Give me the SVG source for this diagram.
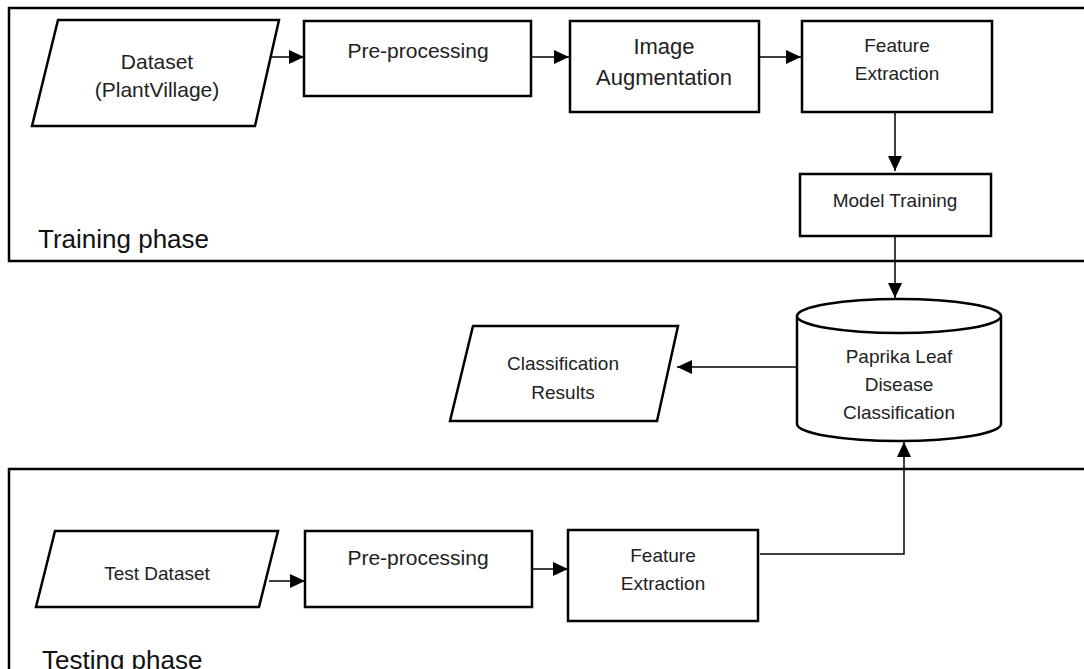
<svg xmlns="http://www.w3.org/2000/svg" width="1084" height="669" viewBox="0 0 1084 669">
<style>
.frame{fill:none;stroke:#000;stroke-width:2.5}
.node{fill:#fff;stroke:#000;stroke-width:2.5;stroke-linejoin:miter}
.conn{fill:none;stroke:#000;stroke-width:1.5}
text{font-family:"Liberation Sans",Arial,sans-serif;fill:#222;text-anchor:middle}
.lg{font-size:21px}
.sm{font-size:19px}
.phase{font-size:26px;text-anchor:start;fill:#111}
</style>
<defs>
<marker id="arr" markerUnits="userSpaceOnUse" markerWidth="16" markerHeight="14" refX="15" refY="7" orient="auto">
<path d="M0,0 L15,7 L0,14 Z" fill="#000"/>
</marker>
</defs>
<rect width="1084" height="669" fill="#fff"/>
<g id="training-phase">
<rect class="frame" x="9" y="8" width="1090" height="253"/>
<text class="phase" x="38" y="248">Training phase</text>
</g>
<g id="testing-phase">
<rect class="frame" x="9" y="469" width="1090" height="300"/>
<text class="phase" x="42" y="669">Testing phase</text>
</g>
<g id="connectors">
<path class="conn" d="M271,57 H304" marker-end="url(#arr)"/>
<path class="conn" d="M532,57 H569" marker-end="url(#arr)"/>
<path class="conn" d="M759,57 H801" marker-end="url(#arr)"/>
<path class="conn" d="M895,112 V171" marker-end="url(#arr)"/>
<path class="conn" d="M895,236 V298" marker-end="url(#arr)"/>
<path class="conn" d="M797,367 H677" marker-end="url(#arr)"/>
<path class="conn" d="M269,581 H305" marker-end="url(#arr)"/>
<path class="conn" d="M532,569 H568" marker-end="url(#arr)"/>
<path class="conn" d="M760,554 H904 V442" marker-end="url(#arr)"/>
</g>
<g id="dataset">
<polygon class="node" points="58,20 279,20 255,126 32,126"/>
<text class="lg" x="157" y="69">Dataset</text>
<text class="lg" x="157" y="97">(PlantVillage)</text>
</g>
<g id="preprocessing">
<rect class="node" x="304" y="21" width="227" height="75"/>
<text class="lg" x="418" y="58">Pre-processing</text>
</g>
<g id="image-augmentation">
<rect class="node" x="570" y="21" width="189" height="91"/>
<text style="font-size:22px" x="664" y="54">Image</text>
<text style="font-size:22px" x="664" y="85">Augmentation</text>
</g>
<g id="feature-extraction">
<rect class="node" x="802" y="21" width="190" height="91"/>
<text class="sm" x="897" y="52">Feature</text>
<text class="sm" x="897" y="80">Extraction</text>
</g>
<g id="model-training">
<rect class="node" x="800" y="174" width="191" height="62"/>
<text class="sm" x="895" y="207">Model Training</text>
</g>
<g id="paprika-classification">
<path class="node" d="M797,316 A102,17 0 0 1 1001,316 V424 A102,17 0 0 1 797,424 Z"/>
<path class="node" fill="none" d="M797,316 A102,17 0 0 0 1001,316"/>
<text class="sm" x="899" y="363">Paprika Leaf</text>
<text class="sm" x="899" y="391">Disease</text>
<text class="sm" x="899" y="419">Classification</text>
</g>
<g id="classification-results">
<polygon class="node" points="473,326 678,326 657,421 450,421"/>
<text class="sm" x="563" y="370">Classification</text>
<text class="sm" x="563" y="399">Results</text>
</g>
<g id="test-dataset">
<polygon class="node" points="55,531 278,531 259,607 36,607"/>
<text class="sm" x="157" y="580">Test Dataset</text>
</g>
<g id="test-preprocessing">
<rect class="node" x="305" y="531" width="227" height="76"/>
<text class="lg" x="418" y="565">Pre-processing</text>
</g>
<g id="test-feature-extraction">
<rect class="node" x="568" y="530" width="190" height="91"/>
<text class="sm" x="663" y="562">Feature</text>
<text class="sm" x="663" y="590">Extraction</text>
</g>
</svg>
